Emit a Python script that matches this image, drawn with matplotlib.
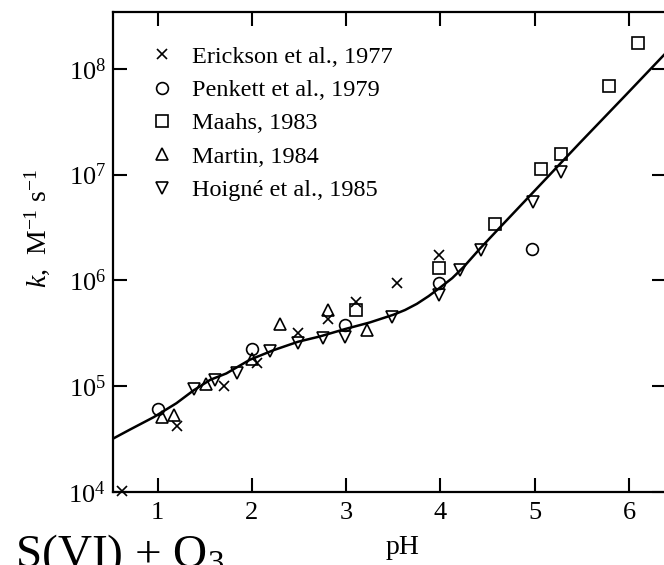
import numpy as np
import matplotlib
matplotlib.use('Agg')
import matplotlib.pyplot as plt
from matplotlib.ticker import FixedLocator, FuncFormatter, NullLocator

plt.rcParams['font.family'] = ['Liberation Serif', 'DejaVu Serif']
plt.rcParams['mathtext.fontset'] = 'custom'
plt.rcParams['mathtext.rm'] = 'Liberation Serif'
plt.rcParams['mathtext.it'] = 'Liberation Serif:italic'

# rate constant curve k(pH), M^-1 s^-1
curve_ph = [0.53, 0.71, 0.96, 1.20, 1.38, 1.56, 1.73, 1.98, 2.23, 2.49, 2.72, 2.99,
            3.25, 3.50, 3.625, 3.75, 3.875, 4.00, 4.125, 4.25, 4.42, 4.63, 4.99,
            5.48, 5.97, 6.37, 6.45]
curve_k = [3.2e4, 3.9e4, 5.1e4, 6.9e4, 9.1e4, 1.15e5, 1.32e5, 1.78e5, 2.19e5,
           2.63e5, 2.95e5, 3.47e5, 4.0e5, 4.73e5, 5.25e5, 6.0e5, 7.1e5, 8.6e5,
           1.05e6, 1.35e6, 2.0e6, 3.16e6, 6.9e6, 2.0e7, 5.7e7, 1.35e8, 1.6e8]

# measurements
erickson_ph = [0.62, 1.21, 1.71, 2.06, 2.49, 2.81, 3.10, 3.54, 3.98]
erickson_k = [1.03e4, 4.2e4, 1.0e5, 1.64e5, 3.16e5, 4.3e5, 6.3e5, 9.4e5, 1.75e6]

penkett_ph = [1.01, 2.00, 2.99, 3.98, 4.97]
penkett_k = [6.1e4, 2.25e5, 3.8e5, 9.5e5, 2.0e6]

maahs_ph = [3.10, 3.98, 4.58, 5.07, 5.28, 5.79, 6.10]
maahs_k = [5.25e5, 1.3e6, 3.4e6, 1.12e7, 1.56e7, 6.8e7, 1.77e8]

martin_ph = [1.05, 1.17, 1.51, 2.00, 2.30, 2.81, 3.22]
martin_k = [5.1e4, 5.35e4, 1.06e5, 1.79e5, 3.9e5, 5.2e5, 3.4e5]

hoigne_ph = [1.39, 1.61, 1.84, 2.19, 2.49, 2.76, 2.99, 3.49, 3.98, 4.21, 4.43,
             4.98, 5.28]
hoigne_k = [9.5e4, 1.15e5, 1.34e5, 2.15e5, 2.54e5, 2.84e5, 2.94e5, 4.54e5,
            7.2e5, 1.25e6, 1.92e6, 5.5e6, 1.06e7]

series = [
    (erickson_ph, erickson_k, 'x', 7, 'Erickson et al., 1977'),
    (penkett_ph, penkett_k, 'o', 8.5, 'Penkett et al., 1979'),
    (maahs_ph, maahs_k, 's', 8, 'Maahs, 1983'),
    (martin_ph, martin_k, '^', 9, 'Martin, 1984'),
    (hoigne_ph, hoigne_k, 'v', 9, 'Hoigné et al., 1985'),
]

fig = plt.figure(figsize=(6.64, 5.65), dpi=100)
ax = fig.add_axes([0.1702, 0.1292, 0.8328, 0.8487])
ax.set_yscale('log')

ax.plot(curve_ph, curve_k, color='black', lw=1.8, zorder=2)
for ph, k, m, ms, lab in series:
    ax.plot(ph, k, ls='none', marker=m, ms=ms, mfc='none', mec='black',
            mew=1.2, label=lab, clip_on=False, zorder=3)

ax.set_xlim(0.528, 6.392)
ax.set_ylim(1e4, 10 ** 8.532)
ax.set_xticks([1, 2, 3, 4, 5, 6])
ax.yaxis.set_major_locator(FixedLocator([1e4, 1e5, 1e6, 1e7, 1e8]))
ax.yaxis.set_minor_locator(NullLocator())
ax.yaxis.set_major_formatter(
    FuncFormatter(lambda v, p: r'$10^{%d}$' % round(np.log10(v))))
ax.tick_params(direction='in', top=True, right=True, length=10, width=1.5,
               labelsize=19, pad=5)
ax.tick_params(axis='x', pad=7)
for s in ax.spines.values():
    s.set_linewidth(1.6)

ax.legend(loc='upper left', bbox_to_anchor=(0.0669, 0.931), frameon=False,
          fontsize=17.5, numpoints=1, handlelength=1.0, handletextpad=0.74,
          labelspacing=0.47, borderpad=0, borderaxespad=0)

fig.text(37 / 664, 1 - 229 / 565, r'$k$,  M$^{-1}$ s$^{-1}$', rotation=90,
         ha='center', va='center', fontsize=20)
fig.text(403 / 664, 1 - 548 / 565, 'pH', ha='center', va='center', fontsize=20)
fig.text(15 / 664, -0.0035, 'S(VI) + O$_3$', fontsize=34, va='baseline')

fig.savefig('out.png', dpi=100)
